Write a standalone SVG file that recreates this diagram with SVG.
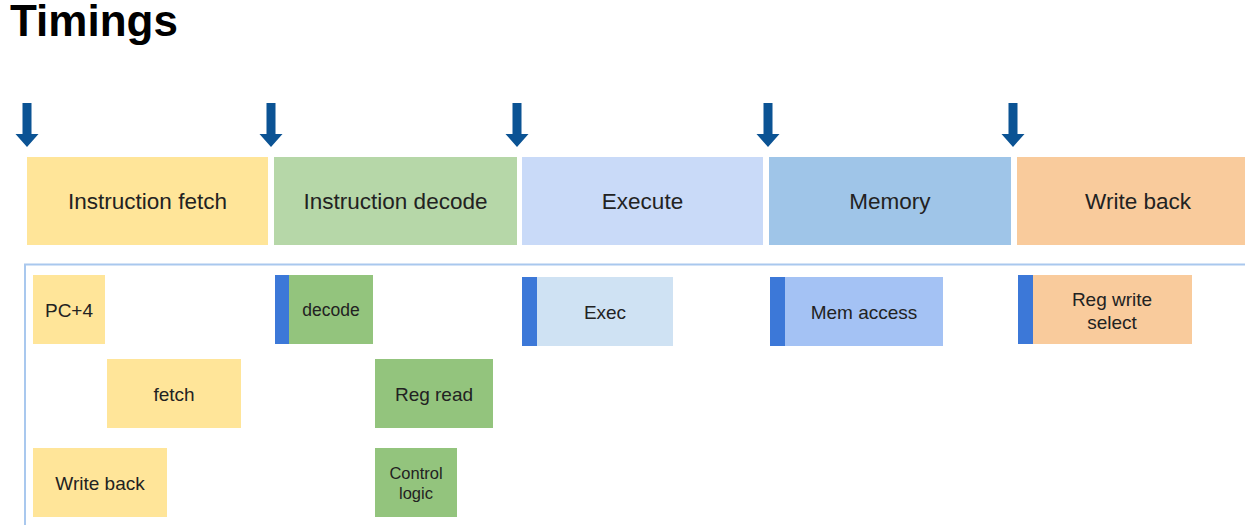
<svg xmlns="http://www.w3.org/2000/svg" xmlns:xlink="http://www.w3.org/1999/xlink" width="1245" height="525" viewBox="0 0 1245 525">
<style>
text{font-family:"Liberation Sans",Arial,sans-serif;fill:#222;text-anchor:middle;dominant-baseline:central}
.title{font-size:44px;font-weight:bold;fill:#000;text-anchor:start;dominant-baseline:auto}
.stage{font-size:22.5px}
.sub{font-size:19px}
.bar{fill:#3c78d8}
.y{fill:#ffe599}.g{fill:#93c47d}.o{fill:#f9cb9c}
</style>
<defs>
<path id="clk" d="M-4.5,103 H4.5 V134 H11.5 L0,147 L-11.5,134 H-4.5 Z" fill="#0b5394"/>
</defs>
<rect width="1245" height="525" fill="#fff"/>
<text class="title" x="10" y="36">Timings</text>

<g id="clock-arrows">
<use xlink:href="#clk" x="27"/>
<use xlink:href="#clk" x="271"/>
<use xlink:href="#clk" x="517"/>
<use xlink:href="#clk" x="768"/>
<use xlink:href="#clk" x="1013"/>
</g>

<g id="stage-if"><rect x="27" y="157" width="241" height="88" fill="#ffe599"/><text class="stage" x="147.5" y="201">Instruction fetch</text></g>
<g id="stage-id"><rect x="274" y="157" width="243" height="88" fill="#b6d7a8"/><text class="stage" x="395.5" y="201">Instruction decode</text></g>
<g id="stage-ex"><rect x="522" y="157" width="241" height="88" fill="#c9daf8"/><text class="stage" x="642.5" y="201">Execute</text></g>
<g id="stage-mem"><rect x="769" y="157" width="242" height="88" fill="#9fc5e8"/><text class="stage" x="890" y="201">Memory</text></g>
<g id="stage-wb"><rect x="1017" y="157" width="240" height="88" fill="#f9cb9c"/><text class="stage" x="1138" y="201">Write back</text></g>

<g id="container"><rect x="25" y="264.5" width="1240" height="280" fill="none" stroke="#a9c8ee" stroke-width="2"/></g>

<g id="pc4"><rect class="y" x="33" y="275" width="72" height="69"/><text class="sub" x="69" y="310">PC+4</text></g>
<g id="fetch"><rect class="y" x="107" y="359" width="134" height="69"/><text class="sub" x="174" y="394">fetch</text></g>
<g id="writeback-if"><rect class="y" x="33" y="448" width="134" height="69"/><text class="sub" x="100" y="483">Write back</text></g>

<g id="decode"><rect class="bar" x="275" y="275" width="14" height="69"/><rect class="g" x="289" y="275" width="84" height="69"/><text x="331" y="309.5" style="font-size:17.5px">decode</text></g>
<g id="regread"><rect class="g" x="375" y="359" width="118" height="69"/><text class="sub" x="434" y="394">Reg read</text></g>
<g id="control"><rect class="g" x="375" y="448" width="82" height="69"/><text x="416" y="473" style="font-size:16.5px">Control</text><text x="416" y="493" style="font-size:16.5px">logic</text></g>

<g id="exec"><rect class="bar" x="522" y="277" width="15" height="69"/><rect x="537" y="277" width="136" height="69" fill="#cfe2f3"/><text class="sub" x="605" y="312">Exec</text></g>
<g id="memaccess"><rect class="bar" x="770" y="277" width="15" height="69"/><rect x="785" y="277" width="158" height="69" fill="#a4c2f4"/><text class="sub" x="864" y="312">Mem access</text></g>
<g id="regwrite"><rect class="bar" x="1018" y="275" width="15" height="69"/><rect class="o" x="1033" y="275" width="159" height="69"/><text class="sub" x="1112" y="299">Reg write</text><text class="sub" x="1112" y="322">select</text></g>
</svg>
